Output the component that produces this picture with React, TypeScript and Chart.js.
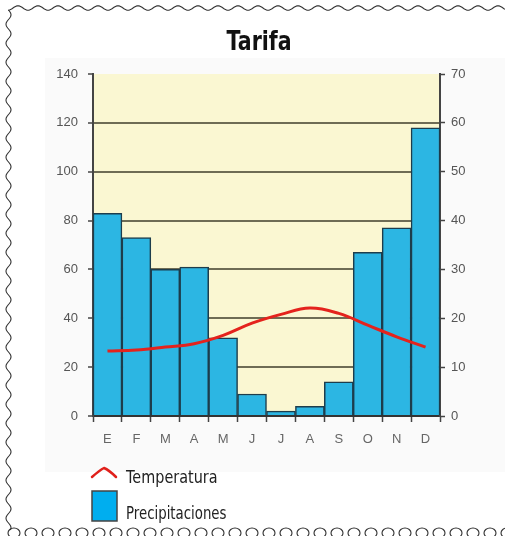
import React, { useEffect, useRef } from "react";
import { Chart, registerables } from "chart.js";

Chart.register(...registerables);

const months = ["E", "F", "M", "A", "M", "J", "J", "A", "S", "O", "N", "D"];
const precipitation = [83, 73, 60, 61, 32, 9, 2, 4, 14, 67, 77, 118];
const temperature = [13.3, 13.5, 14.1, 14.8, 16.5, 19, 20.8, 22.1, 21, 18.6, 16.2, 14.1];
const precipTicks = { min: 0, max: 140, step: 20 };
const tempTicks = { min: 0, max: 70, step: 10 };
const titleText = "Tarifa";
const legendTemp = "Temperatura";
const legendPrecip = "Precipitaciones";

const W = 505;
const H = 536;

function narrowText(ctx: any, text: string, x: number, y: number, sx: number) {
  ctx.save();
  ctx.translate(x, y);
  ctx.scale(sx, 1);
  ctx.fillText(text, 0, 0);
  ctx.restore();
}

const decorPlugin = {
  id: "decor",
  beforeDraw(chart: any) {
    const { ctx, chartArea } = chart;
    ctx.save();
    ctx.fillStyle = "#ffffff";
    ctx.fillRect(0, 0, W, H);
    ctx.fillStyle = "#fafafa";
    ctx.fillRect(45, 58, W - 45, 414);
    ctx.fillStyle = "#faf7d2";
    ctx.fillRect(chartArea.left, chartArea.top, chartArea.right - chartArea.left, chartArea.bottom - chartArea.top);
    ctx.restore();
  },
  afterDraw(chart: any) {
    const { ctx } = chart;
    ctx.save();
    // wavy top border
    ctx.strokeStyle = "#333";
    ctx.lineWidth = 1.1;
    ctx.beginPath();
    const period = 20;
    for (let x = 8; x <= W; x += 1) {
      const y = 8 + 2.2 * Math.cos(((x - 8) / period) * Math.PI * 2);
      if (x === 8) ctx.moveTo(x, y);
      else ctx.lineTo(x, y);
    }
    ctx.stroke();
    // wavy left border
    ctx.beginPath();
    for (let y = 10; y <= 530; y += 1) {
      const x = 8.5 + 2.5 * Math.sin(((y - 10) / 19) * Math.PI * 2);
      if (y === 10) ctx.moveTo(x, y);
      else ctx.lineTo(x, y);
    }
    ctx.stroke();
    // bottom loops
    for (let cx = 14; cx < W + 10; cx += 17) {
      ctx.beginPath();
      ctx.ellipse(cx, 533, 6, 5, 0, 0, Math.PI * 2);
      ctx.stroke();
    }
    // title
    ctx.fillStyle = "#111";
    ctx.font = 'bold 27px "DejaVu Sans", sans-serif';
    ctx.textAlign = "center";
    ctx.textBaseline = "alphabetic";
    narrowText(ctx, titleText, 259, 50, 0.76);
    // legend: temperature
    ctx.strokeStyle = "#e0201b";
    ctx.lineWidth = 2.5;
    ctx.lineCap = "round";
    ctx.beginPath();
    ctx.moveTo(92, 477);
    ctx.quadraticCurveTo(100, 470, 104, 468);
    ctx.quadraticCurveTo(109, 470, 116, 477);
    ctx.stroke();
    ctx.fillStyle = "#222";
    ctx.font = '18px "DejaVu Sans", sans-serif';
    ctx.textAlign = "left";
    ctx.textBaseline = "middle";
    narrowText(ctx, legendTemp, 126, 478, 0.8);
    // legend: precipitation
    ctx.fillStyle = "#00aeef";
    ctx.fillRect(92, 491, 25, 30);
    ctx.strokeStyle = "#444";
    ctx.lineWidth = 1.5;
    ctx.strokeRect(92, 491, 25, 30);
    ctx.fillStyle = "#222";
    narrowText(ctx, legendPrecip, 126, 514, 0.74);
    ctx.restore();
  },
};

export default function App() {
  const ref = useRef<HTMLCanvasElement>(null);
  useEffect(() => {
    if (!ref.current) return;
    const tickFont = { family: '"Liberation Sans", Arial, sans-serif', size: 13 };
    const chart = new Chart(ref.current, {
      type: "bar",
      data: {
        labels: months,
        datasets: [
          {
            type: "line",
            label: legendTemp,
            data: temperature,
            yAxisID: "y1",
            borderColor: "#e4231d",
            borderWidth: 3,
            tension: 0.4,
            pointRadius: 0,
            fill: false,
            order: 0,
          } as any,
          {
            type: "bar",
            label: legendPrecip,
            data: precipitation,
            yAxisID: "y",
            backgroundColor: "#2cb6e3",
            borderColor: "#1d3d4c",
            borderWidth: 1.5,
            categoryPercentage: 1,
            barPercentage: 1,
            order: 1,
          },
        ],
      },
      options: {
        responsive: false,
        animation: false,
        devicePixelRatio: 1,
        layout: { padding: { left: 33, right: 15, top: 74, bottom: 80 } },
        plugins: {
          legend: { display: false },
          title: { display: false },
          tooltip: { enabled: false },
        },
        scales: {
          x: {
            offset: true,
            grid: {
              offset: true,
              drawOnChartArea: false,
              drawTicks: true,
              tickLength: 6,
              tickColor: "#444",
              tickWidth: 1.5,
            },
            border: { display: true, color: "#333", width: 2 },
            ticks: { color: "#666", font: tickFont, padding: 10 },
            afterFit: (s: any) => {
              s.height = 40;
            },
          },
          y: {
            position: "left",
            min: precipTicks.min,
            max: precipTicks.max,
            ticks: { stepSize: precipTicks.step, color: "#555", font: tickFont, padding: 10 },
            grid: {
              color: (c: any) =>
                c.tick && (c.tick.value === precipTicks.max || c.tick.value === precipTicks.min) ? "rgba(0,0,0,0)" : "#6e6c55",
              lineWidth: 2,
              tickLength: 5,
              tickColor: "#444",
              tickWidth: 1.5,
            },
            border: { display: true, color: "#444", width: 2 },
            afterFit: (s: any) => {
              s.width = 60;
            },
          },
          y1: {
            position: "right",
            min: tempTicks.min,
            max: tempTicks.max,
            ticks: { stepSize: tempTicks.step, color: "#555", font: tickFont, padding: 6 },
            grid: { drawOnChartArea: false, tickLength: 5, tickColor: "#444", tickWidth: 1.5 },
            border: { display: true, color: "#444", width: 2 },
            afterFit: (s: any) => {
              s.width = 50;
            },
          },
        },
      },
      plugins: [decorPlugin],
    });
    return () => chart.destroy();
  }, []);
  return (
    <div style={{ position: "absolute", left: 0, top: 0, width: W, height: H }}>
      <canvas ref={ref} width={W} height={H} style={{ width: W, height: H, display: "block" }} />
    </div>
  );
}
